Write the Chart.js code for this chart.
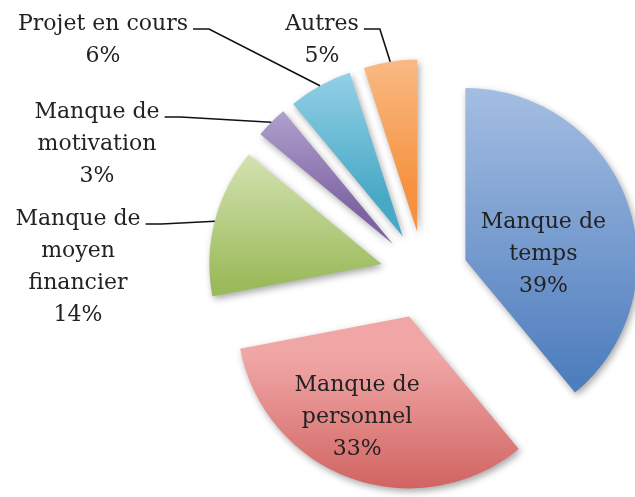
<!DOCTYPE html>
<html>
<head>
<meta charset="utf-8">
<script src="https://cdn.jsdelivr.net/npm/chart.js@4"></script>
<style>
    body { margin: 0; padding: 0; background: #fff; overflow: hidden; }
    #box { width: 635px; height: 497px; position: relative; }
</style>
</head>
<body>
<div id="box"><canvas id="chartCanvas"></canvas></div>
<script>
// Data
const categories = [
    ['Manque de', 'temps'],
    ['Manque de', 'personnel'],
    ['Manque de', 'moyen', 'financier'],
    ['Manque de', 'motivation'],
    ['Projet en cours'],
    ['Autres'],
];
const percents = [39, 33, 14, 3, 6, 5];

// Gradient colours per slice (top, bottom)
const topColors = ['#a9c1e4', '#efa6a5', '#d8e6b8', '#c0b3d8', '#aadcf0', '#fac79b'];
const bottomColors = ['#4f7ebe', '#c74f4c', '#9bba5a', '#7d63a3', '#48a9c6', '#f6923f'];

const RADIUS = 172;
const EXPLODE = 44; // pixels each slice is pulled out
const FONT = '22px "DejaVu Serif", serif';
const LINE_H = 32;

// label placement: inside labels are placed relative to the slice tip,
// outside labels have their own text anchor (center x, first baseline)
const labelLayout = [
    { inside: true, dx: 78, dy: -32 },
    { inside: true, dx: -52, dy: 75 },
    { x: 78, y: 225 },
    { x: 97, y: 118 },
    { x: 103, y: 30 },
    { x: 322, y: 30 },
];

const sliceGeom = (chart, i) => {
    const area = chart.chartArea;
    const cx = (area.left + area.right) / 2;
    const cy = (area.top + area.bottom) / 2;
    const total = percents.reduce((a, b) => a + b, 0);
    let cum = 0;
    for (let k = 0; k < i; k++) cum += percents[k];
    const a0 = -Math.PI / 2 + 2 * Math.PI * cum / total;
    const a1 = a0 + 2 * Math.PI * percents[i] / total;
    const mid = (a0 + a1) / 2;
    return {
        a0, a1, mid,
        x: cx + Math.cos(mid) * EXPLODE,
        y: cy + Math.sin(mid) * EXPLODE,
    };
};

const sliceFill = (context) => {
    const chart = context.chart;
    const i = context.dataIndex;
    if (!chart.chartArea || i === undefined) return bottomColors[i || 0];
    const g = sliceGeom(chart, i);
    let minY = g.y;
    let maxY = g.y;
    for (let s = 0; s <= 40; s++) {
        const a = g.a0 + (g.a1 - g.a0) * s / 40;
        const py = g.y + Math.sin(a) * RADIUS;
        minY = Math.min(minY, py);
        maxY = Math.max(maxY, py);
    }
    const grad = chart.ctx.createLinearGradient(0, minY, 0, maxY);
    grad.addColorStop(0, topColors[i]);
    grad.addColorStop(1, bottomColors[i]);
    return grad;
};

// Draw the arcs ourselves so every slice is pulled out by the same amount
// without Chart.js growing the radius of thin slices.
const explodePlugin = {
    id: 'explode',
    beforeDatasetsDraw: (chart) => {
        const ctx = chart.ctx;
        const meta = chart.getDatasetMeta(0);
        ctx.save();
        ctx.shadowColor = 'rgba(0, 0, 0, 0.35)';
        ctx.shadowBlur = 7;
        ctx.shadowOffsetX = 2;
        ctx.shadowOffsetY = 3;
        meta.data.forEach((arc) => {
            const mid = (arc.startAngle + arc.endAngle) / 2;
            ctx.save();
            ctx.translate(Math.cos(mid) * EXPLODE, Math.sin(mid) * EXPLODE);
            arc.draw(ctx);
            ctx.restore();
        });
        ctx.restore();
        return false;
    },
};

const labelPlugin = {
    id: 'sliceLabels',
    afterDraw: (chart) => {
        const ctx = chart.ctx;
        ctx.save();
        ctx.font = FONT;
        ctx.fillStyle = '#222';
        ctx.textAlign = 'center';
        ctx.textBaseline = 'alphabetic';
        ctx.strokeStyle = '#111';
        ctx.lineWidth = 1.6;

        categories.forEach((lines, i) => {
            const layout = labelLayout[i];
            const g = sliceGeom(chart, i);
            const textLines = [...lines, percents[i] + '%'];
            let tx = layout.x;
            let ty = layout.y;
            if (layout.inside) {
                tx = g.x + layout.dx;
                ty = g.y + layout.dy;
            }
            textLines.forEach((t, k) => {
                ctx.fillText(t, tx, ty + k * LINE_H);
            });

            if (!layout.inside) {
                // leader line from the first text line to the outer edge of the slice
                const w = ctx.measureText(textLines[0]).width;
                const sx = tx + w / 2 + 5;
                const sy = ty - 1;
                const ex = g.x + Math.cos(g.mid) * RADIUS;
                const ey = g.y + Math.sin(g.mid) * RADIUS;
                ctx.beginPath();
                ctx.moveTo(sx, sy);
                ctx.lineTo(sx + 16, sy);
                ctx.lineTo(ex, ey);
                ctx.stroke();
            }
        });
        ctx.restore();
    },
};

window.onload = () => {
    const ctx = document.getElementById('chartCanvas').getContext('2d');
    new Chart(ctx, {
        type: 'pie',
        data: {
            labels: categories.map((c) => c.join(' ')),
            datasets: [{
                data: percents,
                backgroundColor: sliceFill,
                borderWidth: 0,
                offset: 0,
                hoverOffset: 0,
            }],
        },
        options: {
            responsive: true,
            maintainAspectRatio: false,
            animation: false,
            radius: RADIUS,
            layout: {
                padding: { left: 213, right: 0, top: 53, bottom: 0 },
            },
            plugins: {
                legend: { display: false },
                tooltip: { enabled: false },
            },
            events: [],
        },
        plugins: [explodePlugin, labelPlugin],
    });
};
</script>
</body>
</html>
